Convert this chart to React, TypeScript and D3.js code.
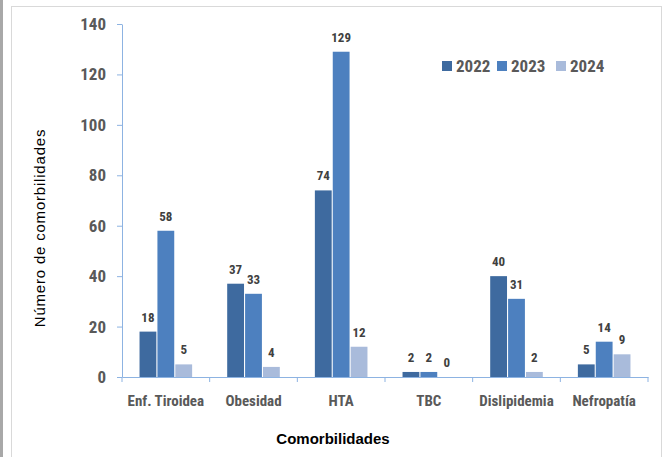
import { useEffect, useRef } from "react";
import * as d3 from "d3";

const categories = ["Enf. Tiroidea", "Obesidad", "HTA", "TBC", "Dislipidemia", "Nefropatía"];
const years = ["2022", "2023", "2024"];
const values2022 = [18, 37, 74, 2, 40, 5];
const values2023 = [58, 33, 129, 2, 31, 14];
const values2024 = [5, 4, 12, 0, 2, 9];
const yTicks = [0, 20, 40, 60, 80, 100, 120, 140];
const colors = ["#3E6A9F", "#4D80BF", "#A9BBDB"];

const FONT = "'Liberation Sans Narrow', 'Roboto Condensed', 'Liberation Sans', sans-serif";
const WIDE = "'Liberation Sans', Arial, sans-serif";

const App: React.FC = () => {
  const ref = useRef<SVGSVGElement | null>(null);

  useEffect(() => {
    if (!ref.current) return;
    const svg = d3.select(ref.current);
    svg.selectAll("*").remove();

    const width = 668,
      height = 457;
    const margin = { top: 24, right: 20, bottom: 80, left: 122 };
    const series = [values2022, values2023, values2024];

    // frame
    svg.append("rect").attr("x", 0).attr("y", 0).attr("width", 3).attr("height", height).attr("fill", "#a8a8a8");
    svg
      .append("rect")
      .attr("x", 11.5)
      .attr("y", 6.5)
      .attr("width", 650)
      .attr("height", height)
      .attr("fill", "#fff")
      .attr("stroke", "#d9d9d9");

    const x = d3
      .scaleBand()
      .domain(categories)
      .range([margin.left, width - margin.right])
      .paddingInner(0)
      .paddingOuter(0);
    const x1 = d3
      .scaleBand()
      .domain(years)
      .range([0, x.bandwidth()])
      .paddingInner(0.06)
      .paddingOuter(0.98);
    const y = d3
      .scaleLinear()
      .domain([0, 140])
      .range([377, margin.top]);

    // y axis
    const yAxis = svg
      .append("g")
      .attr("transform", `translate(${margin.left},0)`)
      .call(d3.axisLeft(y).tickValues(yTicks).tickSize(5).tickSizeOuter(0).tickPadding(11));
    yAxis.select(".domain").attr("stroke", "#8db3e2");
    yAxis.selectAll(".tick line").attr("stroke", "#8db3e2");
    yAxis
      .selectAll(".tick text")
      .attr("fill", "#595959")
      .style("font-family", FONT)
      .style("font-size", "17px")
      .style("font-weight", "bold");

    // x axis
    const xAxis = svg
      .append("g")
      .attr("transform", `translate(0,${y(0)})`)
      .call(d3.axisBottom(x).tickSize(0).tickPadding(18));
    xAxis.select(".domain").attr("stroke", "#8db3e2");
    xAxis
      .selectAll(".tick text")
      .attr("fill", "#595959")
      .style("font-family", FONT)
      .style("font-size", "15px")
      .style("font-weight", "bold");
    const bounds = [...categories.map((c) => x(c)!), width - margin.right];
    xAxis
      .selectAll("line.sep")
      .data(bounds)
      .enter()
      .append("line")
      .attr("x1", (d) => d)
      .attr("x2", (d) => d)
      .attr("y1", 0)
      .attr("y2", 5)
      .attr("stroke", "#8db3e2");

    // bars
    series.forEach((vals, si) => {
      const g = svg.append("g");
      g.selectAll("rect")
        .data(vals)
        .enter()
        .append("rect")
        .attr("x", (_, i) => x(categories[i])! + x1(years[si])!)
        .attr("y", (d) => y(d))
        .attr("width", x1.bandwidth())
        .attr("height", (d) => y(0) - y(d))
        .attr("fill", colors[si]);
      g.selectAll("text")
        .data(vals)
        .enter()
        .append("text")
        .attr("x", (_, i) => x(categories[i])! + x1(years[si])! + x1.bandwidth() / 2)
        .attr("y", (d) => y(d) - 10)
        .attr("text-anchor", "middle")
        .attr("fill", "#404040")
        .style("font-family", FONT)
        .style("font-size", "13px")
        .style("font-weight", "bold")
        .text((d) => d);
    });

    // legend
    const legendX = [442, 497, 556];
    years.forEach((yr, i) => {
      svg
        .append("rect")
        .attr("x", legendX[i])
        .attr("y", 61)
        .attr("width", 10)
        .attr("height", 10)
        .attr("fill", colors[i]);
      svg
        .append("text")
        .attr("x", legendX[i] + 14)
        .attr("y", 72)
        .attr("fill", "#595959")
        .style("font-family", FONT)
        .style("font-size", "17px")
        .style("font-weight", "bold")
        .text(yr);
    });

    // axis titles
    svg
      .append("text")
      .attr("x", 333)
      .attr("y", 444)
      .attr("text-anchor", "middle")
      .attr("fill", "#000")
      .style("font-family", WIDE)
      .style("font-size", "15px")
      .style("font-weight", "bold")
      .text("Comorbilidades");
    svg
      .append("text")
      .attr("transform", "translate(45,228) rotate(-90)")
      .attr("text-anchor", "middle")
      .attr("fill", "#000")
      .style("font-family", WIDE)
      .style("font-size", "15px")
      .style("letter-spacing", "0.8px")
      .text("Número de comorbilidades");
  }, []);

  return (
    <svg
      ref={ref}
      width={668}
      height={457}
      style={{ position: "absolute", left: 0, top: 0, background: "#fff" }}
    ></svg>
  );
};

export default App;
